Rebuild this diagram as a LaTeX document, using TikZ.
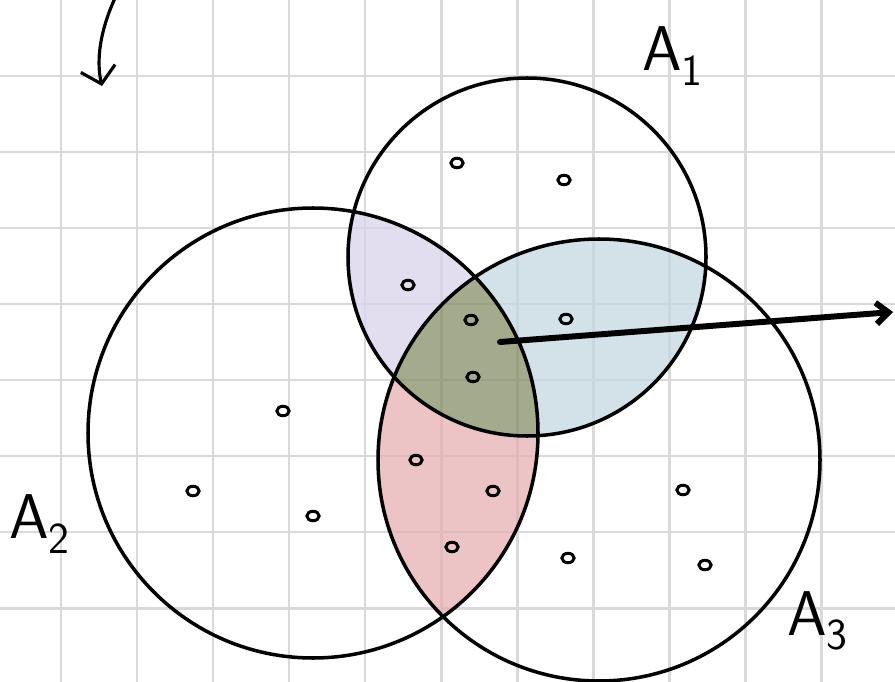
\documentclass[tikz,border=0pt]{standalone}
\usetikzlibrary{shapes.geometric, arrows.meta}
\definecolor{lavender}{HTML}{D8D3EB}
\definecolor{paleblue}{HTML}{C4D8E0}
\definecolor{palered}{HTML}{E7B0B3}
\definecolor{olive}{HTML}{868F66}
\definecolor{gridgray}{HTML}{D9D9D9}

\begin{document}
\begin{tikzpicture}[x=0.02cm, y=-0.02cm,
    gridline/.style={draw=gridgray, line width=1.7pt},
    ring/.style={draw=black, line width=2pt},
    shade/.style={fill opacity=0.75},
    dotmark/.style={ellipse, draw=black, line width=1.7pt, inner sep=0pt, minimum width=7pt, minimum height=5.4pt},
    setlabel/.style={font=\fontsize{36}{40}\selectfont\sffamily, inner sep=0pt},
    arrow/.style={-{Straight Barb[length=7pt, width=12pt]}, line width=3.4pt, line cap=round},
    curl/.style={-{Straight Barb[length=9pt, width=20pt]}, line width=1.8pt, line cap=round}
]
    \useasboundingbox (0,0) rectangle (895,682);

    % Grid paper
    \foreach \x in {61,137,...,821}
        \draw[gridline] (\x,0) -- (\x,682);
    \foreach \y in {76,152,...,608}
        \draw[gridline] (0,\y) -- (895,\y);

    % Centres of the three sets
    \coordinate (c1) at (527,257);
    \coordinate (c2) at (313,433);
    \coordinate (c3) at (599,460);

    % Shaded pieces
    \begin{scope}
        \clip (c1) circle [radius=179];
        \clip (c2) circle [radius=225];
        \fill[shade, lavender, even odd rule] (0,0) rectangle (895,682) (c3) circle [radius=221];
    \end{scope}
    \begin{scope}
        \clip (c1) circle [radius=179];
        \clip (c3) circle [radius=221];
        \fill[shade, paleblue, even odd rule] (0,0) rectangle (895,682) (c2) circle [radius=225];
    \end{scope}
    \begin{scope}
        \clip (c2) circle [radius=225];
        \clip (c3) circle [radius=221];
        \fill[shade, palered, even odd rule] (0,0) rectangle (895,682) (c1) circle [radius=179];
    \end{scope}
    \begin{scope}
        \clip (c1) circle [radius=179];
        \clip (c2) circle [radius=225];
        \fill[shade, olive] (c3) circle [radius=221];
    \end{scope}

    % Sets
    \draw[ring] (c1) circle [radius=179];
    \draw[ring] (c2) circle [radius=225];
    \draw[ring] (c3) circle [radius=221];

    % Elements
    \node[dotmark] (p1) at (457,163) {};
    \node[dotmark] (p2) at (564,180) {};
    \node[dotmark] (p3) at (408,285) {};
    \node[dotmark] (p4) at (566,319) {};
    \node[dotmark] (p5) at (471,320) {};
    \node[dotmark] (p6) at (473,377) {};
    \node[dotmark] (p7) at (416,460) {};
    \node[dotmark] (p8) at (493,491) {};
    \node[dotmark] (p9) at (452,547) {};
    \node[dotmark] (p10) at (283,411) {};
    \node[dotmark] (p11) at (193,491) {};
    \node[dotmark] (p12) at (313,516) {};
    \node[dotmark] (p13) at (683,490) {};
    \node[dotmark] (p14) at (568,558) {};
    \node[dotmark] (p15) at (705,565) {};

    % Labels
    \node[setlabel] (lab1) at (673,56) {A\textsubscript{1}};
    \node[setlabel] (lab2) at (40,524) {A\textsubscript{2}};
    \node[setlabel] (lab3) at (818,621) {A\textsubscript{3}};

    % Arrows
    \coordinate (tail) at (500,342);
    \coordinate (head) at (893,312);
    \draw[arrow] (tail) -- (head);
    \coordinate (curlstart) at (116,-4);
    \coordinate (curlend) at (102,86);
    \draw[curl] (curlstart) .. controls (100,30) and (96,60) .. (curlend);
\end{tikzpicture}
\end{document}
